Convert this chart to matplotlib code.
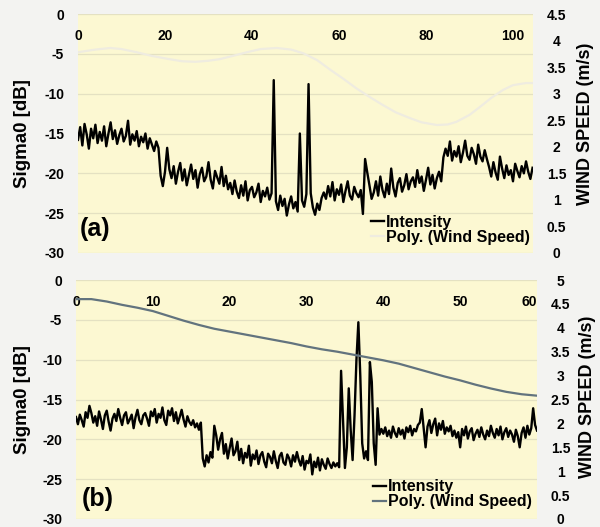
import numpy as np
import matplotlib
matplotlib.use('Agg')
import matplotlib.pyplot as plt
from matplotlib.ticker import FuncFormatter

plt.rcParams['font.family'] = ['Liberation Sans', 'DejaVu Sans']
plt.rcParams['font.weight'] = 'bold'
plt.rcParams['axes.unicode_minus'] = False

# ---------------- data ----------------
sigma_ticks = [0, -5, -10, -15, -20, -25, -30]

# panel (a): intensity sampled every 0.5 units of distance
a_step = 0.5
a_intensity = [
    -15.8, -14.2, -16.5, -13.8, -15.1, -16.9, -14.4, -15.6, -13.9, -16.2,
    -14.8, -15.9, -14.1, -16.6, -15.0, -13.6, -15.7, -14.6, -16.3, -15.2,
    -14.4, -16.0, -15.3, -13.4, -16.4, -15.1, -15.9, -14.7, -16.6, -15.4,
    -16.1, -15.0, -16.9, -15.6, -16.4, -17.2, -16.0, -16.8,
    -20.3, -21.6, -19.8, -16.8, -19.5,
    -20.6, -19.1, -21.3, -19.8, -18.7, -20.9, -19.5, -21.5, -20.2, -18.9,
    -20.7, -19.6, -21.8, -20.1, -19.3, -21.0, -20.4, -18.6, -20.8, -21.9,
    -19.7, -20.5, -21.3, -19.2, -21.6, -20.3, -22.0,
    -21.2, -22.6, -20.9, -22.3, -23.1, -21.5, -22.8, -21.0, -23.4, -22.1,
    -21.7, -23.0, -22.4, -21.3, -23.6, -22.2, -22.9, -21.8, -23.3, -22.5,
    -8.3,
    -23.5, -24.6, -22.8, -24.1, -23.2, -25.3, -23.9, -22.9, -24.4, -23.6, -24.8,
    -15.0,
    -23.4, -24.2, -22.6,
    -8.8,
    -22.5, -24.3, -25.2, -23.8, -24.6, -23.1,
    -22.4, -23.2, -21.6, -22.9, -21.1, -23.4, -22.0, -22.7, -21.4, -23.6,
    -22.2, -21.0, -22.8, -23.3, -21.7, -22.5, -23.0, -22.1,
    -25.1, -18.2, -19.9,
    -21.5, -23.2, -22.4, -21.0, -22.8, -20.4, -22.1, -23.0, -21.3, -22.6,
    -19.4, -21.8, -22.9, -21.2, -20.6, -22.3, -21.5, -20.1, -22.0, -21.0,
    -20.5, -21.7, -19.6, -21.2, -20.4, -22.2, -20.8, -19.3, -21.4, -20.2,
    -21.9, -20.6, -19.8, -21.0,
    -18.0, -16.9, -17.8, -16.0, -18.4, -17.2, -17.9, -16.6, -18.6, -17.4,
    -15.9, -17.8, -18.3, -16.8, -17.6, -18.8, -16.4, -17.9, -18.5, -17.1, -18.2,
    -19.2, -20.4, -18.6, -19.9, -20.8, -17.9, -19.4, -20.6, -19.0, -20.2,
    -19.6, -21.0, -18.8, -19.7, -20.5, -19.1, -20.0, -18.5, -19.8, -20.7, -19.3,
]
a_wind_x = [0, 4, 7.4, 10, 13.5, 17, 21, 24, 27, 30, 32.6, 36, 38.8, 42, 45.7,
            49, 51.8, 55, 58, 61, 64, 67, 70, 73, 76.3, 79, 82.5, 85, 87, 90,
            92.4, 95, 97.7, 100, 103, 104.6]
a_wind = [3.78, 3.83, 3.86, 3.84, 3.78, 3.71, 3.65, 3.61, 3.60, 3.62, 3.65,
          3.72, 3.78, 3.84, 3.86, 3.83, 3.76, 3.63, 3.45, 3.28, 3.10, 2.94,
          2.79, 2.65, 2.54, 2.46, 2.41, 2.42, 2.47, 2.60, 2.75, 2.92, 3.07,
          3.16, 3.20, 3.20]
a_xticks = [0, 20, 40, 60, 80, 100]
a_wticks = [0, 0.5, 1, 1.5, 2, 2.5, 3, 3.5, 4, 4.5]

# panel (b): intensity sampled every 0.25 units of distance
b_step = 0.25
b_intensity = [
    -17.2, -18.1, -16.9, -17.6, -18.4, -16.6, -17.3, -15.8, -16.7, -17.9,
    -17.1, -18.3, -16.5, -17.5, -18.7, -17.0, -16.4, -17.8, -18.9, -17.4,
    -16.8, -17.7, -16.2, -17.3, -18.2, -17.0, -16.6, -18.0, -17.5, -16.9,
    -18.6, -17.2, -16.3, -17.6, -18.1, -17.0, -16.7, -17.4, -18.3, -16.5,
    -17.1, -16.2, -17.9, -16.8, -17.3, -16.0, -17.6, -18.2, -16.4, -17.0,
    -16.1, -17.7, -16.6, -18.0, -17.2, -16.3, -17.5, -18.4, -17.1, -17.8,
    -18.2, -17.6, -18.5, -18.0, -18.8, -17.9,
    -22.4, -23.4, -22.0, -22.9, -21.6, -22.3,
    -18.3,
    -19.5, -21.3, -20.0, -19.2, -21.8, -20.6, -22.4, -21.1, -19.9, -22.0,
    -21.5, -20.3, -22.6, -21.2, -23.0, -21.7, -22.3, -20.8, -23.3, -21.9,
    -22.5, -21.4, -23.1, -22.0, -21.6, -22.8, -23.5, -21.8, -22.2, -23.0,
    -21.5, -22.7, -23.6, -22.1, -21.7, -22.9, -23.2, -21.9, -22.4, -23.4,
    -22.0, -22.8, -21.6,
    -22.6, -23.3, -22.1, -23.8, -22.7, -23.0, -21.9, -24.4, -22.8, -23.5,
    -22.3, -23.9, -22.5, -23.2, -23.7, -22.4, -23.1, -23.6, -22.9, -23.4,
    -23.0, -23.5,
    -11.4, -17.5, -23.6, -21.0, -13.6, -18.8, -22.6, -17.0, -10.0, -5.3,
    -12.0, -20.5, -22.4, -21.5, -22.6, -10.3, -12.8, -20.5, -23.2, -16.1, -19.4,
    -18.7, -19.3, -18.5, -19.6, -18.9, -19.8, -18.4, -19.2, -19.7, -18.6,
    -19.4, -18.8, -19.9, -18.5, -19.1, -18.3, -19.5, -18.7, -19.0, -18.2,
    -17.9, -16.2, -18.6, -21.0, -18.4, -17.6, -19.2, -18.1, -17.4, -19.5,
    -18.0, -18.8, -17.7, -19.3, -18.5, -19.0, -18.3, -19.6, -18.9, -19.8,
    -19.1, -21.0, -18.7, -19.5, -18.4, -19.9, -19.0, -18.6, -20.1, -19.3,
    -18.8, -19.7, -18.5, -19.4, -20.0, -18.9, -19.6, -18.3, -19.2, -19.8,
    -18.7, -19.5, -18.4, -20.0, -19.1, -18.6, -19.7, -18.9, -19.4, -20.3,
    -18.8, -19.6, -21.0, -19.2, -18.5, -19.8, -18.3, -19.4, -18.6, -16.1,
    -18.2, -18.9,
]
b_wind_x = [0, 2, 4, 6, 8, 10, 12, 14, 16, 18, 20, 22, 24, 26, 28, 30, 32, 34,
            36, 38, 40, 42, 44, 46, 48, 50, 52, 54, 56, 58, 60]
b_wind = [4.60, 4.60, 4.55, 4.48, 4.42, 4.35, 4.25, 4.15, 4.06, 3.98, 3.92,
          3.86, 3.80, 3.74, 3.68, 3.61, 3.55, 3.50, 3.44, 3.38, 3.32, 3.25,
          3.16, 3.07, 2.98, 2.90, 2.81, 2.73, 2.66, 2.61, 2.58]
b_xticks = [0, 10, 20, 30, 40, 50, 60]
b_wticks = [0, 0.5, 1, 1.5, 2, 2.5, 3, 3.5, 4, 4.5, 5]

# ---------------- style ----------------
FIG_BG = '#f3f3f1'
YELLOW = '#fcf8d2'
GRID = '#e4e1c2'
W, H = 600, 527

fig = plt.figure(figsize=(W / 100, H / 100), dpi=100, facecolor=FIG_BG)


def rect(l, t, r, b):
    return [l / W, 1 - b / H, (r - l) / W, (b - t) / H]


def panel(box, intensity, step, wx, wy, xlim, xticks, wlim, wticks, wcolor,
          tag, tag_pos, leg_anchor, rpad):
    ax = fig.add_axes(rect(*box))
    x = np.arange(len(intensity)) * step
    ax.set_facecolor(YELLOW)
    ax.plot(x, intensity, color='black', lw=1.7, zorder=3, label='Intensity')
    ax.set_xlim(*xlim)
    ax.set_ylim(-30, 0)
    ax.set_yticks(sigma_ticks)
    ax.set_xticks(xticks)
    ax.xaxis.tick_top()
    ax.tick_params(axis='x', length=0, pad=-21, labelsize=10)
    ax.tick_params(axis='y', length=0, pad=10, labelsize=10)
    ax.grid(axis='y', color=GRID, lw=0.9)
    ax.set_axisbelow(True)
    for s in ax.spines.values():
        s.set_visible(False)

    ax2 = ax.twinx()
    ax2.plot(wx, wy, color=wcolor, lw=1.6, label='Poly. (Wind Speed)')
    ax2.set_ylim(*wlim)
    ax2.set_yticks(wticks)
    ax2.yaxis.set_major_formatter(FuncFormatter(lambda v, p: f'{v:g}'))
    ax2.tick_params(axis='y', length=0, pad=rpad, labelsize=10)
    plt.setp(ax2.get_yticklabels(), ha='center')
    for s in ax2.spines.values():
        s.set_visible(False)

    ax.text(tag_pos[0], tag_pos[1], tag, transform=ax.transAxes,
            fontsize=18, fontweight='bold', ha='left', va='bottom')

    h1, l1 = ax.get_legend_handles_labels()
    h2, l2 = ax2.get_legend_handles_labels()
    ax2.legend(h1 + h2, l1 + l2, loc='lower right', bbox_to_anchor=leg_anchor,
               frameon=False, fontsize=11.5, handlelength=0.8,
               handletextpad=0.15, labelspacing=0.0, borderpad=0,
               borderaxespad=0)
    return ax, ax2


axA, axA2 = panel((78, 14, 533, 253), a_intensity, a_step, a_wind_x, a_wind,
                  (0, 104.6), a_xticks, (0, 4.5), a_wticks, '#efece0',
                  '(a)', (0.004, 0.05), (0.993, 0.035), 17)
axB, axB2 = panel((76, 280, 537, 519), b_intensity, b_step, b_wind_x, b_wind,
                  (0, 60), b_xticks, (0, 5), b_wticks, '#62737e',
                  '(b)', (0.012, 0.035), (0.989, 0.04), 17)
axB.get_xticklabels()[-1].set_ha('right')

# axis titles
for (t, b) in [(14, 253), (280, 519)]:
    yc = 1 - (t + b) / 2 / H
    fig.text(23 / W, yc, 'Sigma0 [dB]', rotation=90, ha='center',
             va='center', fontsize=13.5, fontweight='bold')
fig.text(586 / W, 1 - 124 / H, 'WIND SPEED (m/s)', rotation=90, ha='center',
         va='center', fontsize=13, fontweight='bold')
fig.text(587 / W, 1 - 397 / H, 'WIND SPEED (m/s)', rotation=90, ha='center',
         va='center', fontsize=13, fontweight='bold')

fig.savefig('out.png', dpi=100, facecolor=FIG_BG)
